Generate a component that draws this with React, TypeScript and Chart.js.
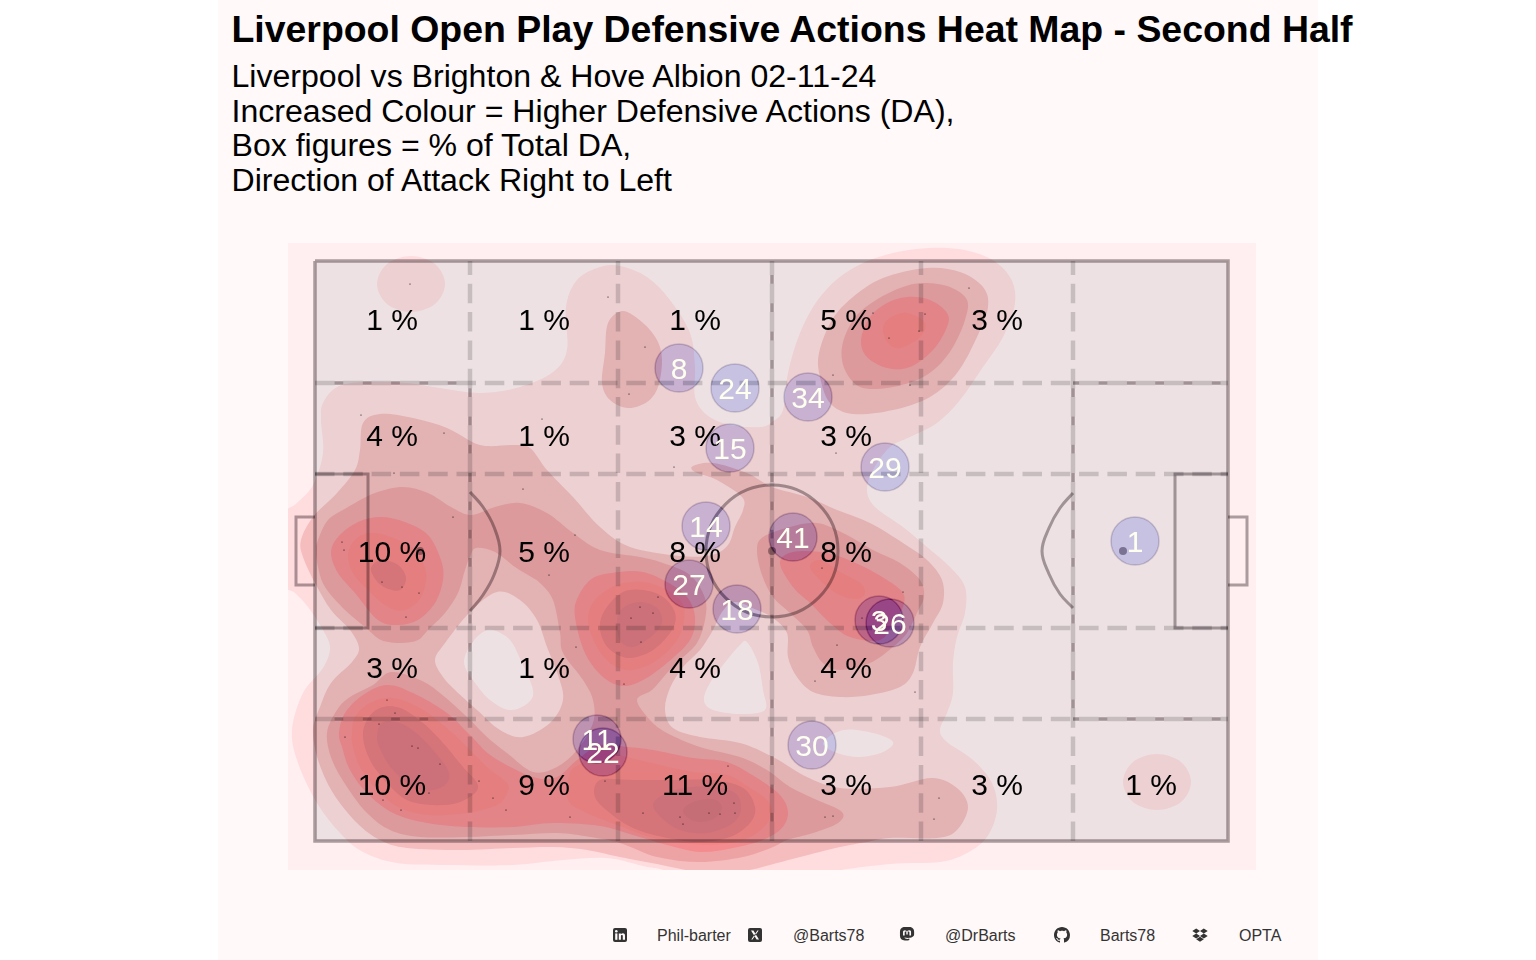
import { useEffect, useRef } from "react";
import { Chart, registerables } from "chart.js";

Chart.register(...registerables);

type Pt = [number, number];

// pitch units: 913 x 580, origin top-left of the pitch, y grows downwards
const level1Main: Pt[] = [[8,142],[22,126],[48,121],[92,122],[125,127],[165,132],[205,126],[238,111],[252,89],[251,46],[262,19],[285,6],[305,5],[332,16],[355,39],[375,72],[380,106],[380,136],[392,154],[415,164],[445,166],[457,161],[468,149],[473,112],[485,72],[505,36],[535,9],[578,-8],[632,-13],[672,-4],[695,16],[700,42],[688,76],[668,106],[645,139],[622,162],[595,176],[575,186],[558,209],[552,229],[560,246],[588,266],[612,286],[635,306],[650,326],[650,352],[642,376],[638,402],[638,432],[632,452],[625,469],[632,481],[658,499],[677,522],[682,549],[672,576],[652,592],[625,601],[575,603],[515,611],[465,624],[385,624],[348,609],[332,606],[292,597],[248,599],[198,604],[132,604],[82,602],[48,591],[25,572],[2,542],[-17,502],[-23,469],[-12,432],[8,407],[15,387],[8,369],[-7,346],[-20,332],[-35,319],[-35,259],[-18,242],[-2,224],[8,192],[6,159]];
const level1TopLeft: Pt[] = [[96,-5],[120,3],[130,23],[120,43],[96,51],[72,43],[62,23],[72,3]];
const level1BottomRight: Pt[] = [[842,493],[866,501],[876,521],[866,541],[842,549],[818,541],[808,521],[818,501]];
const level1Pocket: Pt[] = [[120,399],[130,382],[155,351],[182,331],[205,339],[222,359],[232,386],[243,414],[248,439],[235,462],[208,476],[185,469],[162,449],[140,429],[128,416]];
const holeCentre: Pt[] = [[432,381],[443,402],[448,429],[450,449],[425,453],[398,449],[389,439],[395,422],[412,399],[425,384]];
const holeLeft: Pt[] = [[178,369],[195,379],[207,402],[218,429],[213,442],[195,449],[175,439],[158,419],[149,401],[157,382],[168,371]];
const holeRight: Pt[] = [[508,482],[528,469],[558,472],[578,481],[568,491],[545,496],[522,492]];

const level2Main: Pt[] = [[45,189],[48,162],[65,153],[98,157],[132,167],[165,184],[198,184],[215,187],[232,209],[258,236],[285,266],[315,286],[365,295],[397,294],[413,284],[420,266],[428,249],[427,236],[402,219],[380,211],[378,205],[398,202],[432,212],[457,226],[492,236],[522,249],[555,262],[588,282],[612,299],[627,319],[628,342],[618,362],[605,386],[598,412],[585,426],[555,434],[525,436],[498,431],[482,416],[473,396],[472,372],[458,357],[442,349],[420,341],[407,351],[398,369],[385,389],[368,406],[355,427],[350,449],[358,467],[385,476],[425,482],[458,496],[492,516],[525,527],[575,526],[617,517],[642,527],[653,546],[642,569],[622,577],[575,577],[552,581],[525,586],[485,596],[462,602],[428,610],[385,611],[342,603],[305,596],[272,589],[238,586],[198,587],[145,589],[92,587],[65,579],[42,562],[18,532],[3,499],[-2,469],[5,446],[16,422],[37,401],[44,387],[35,369],[16,349],[0,322],[-12,296],[-14,279],[-2,256],[22,232],[40,209]];
const level2TopRight: Pt[] = [[612,7],[645,11],[668,26],[673,46],[662,76],[642,112],[615,136],[578,149],[538,153],[515,142],[505,116],[504,92],[517,59],[538,36],[568,17]];
const level2Upper: Pt[] = [[308,50],[328,62],[342,79],[347,99],[343,126],[332,141],[313,147],[295,139],[287,122],[290,92],[293,62]];

const level3Main: Pt[] = [[3,279],[13,259],[33,246],[60,232],[88,226],[113,232],[136,246],[156,254],[180,246],[205,242],[232,252],[258,272],[285,289],[325,296],[348,302],[375,314],[390,337],[390,359],[382,382],[365,399],[352,412],[337,429],[322,439],[335,459],[352,472],[385,486],[425,496],[452,509],[475,526],[502,539],[527,551],[523,562],[498,572],[472,579],[458,586],[428,596],[385,601],[342,596],[305,582],[275,576],[242,572],[198,574],[152,576],[105,576],[75,569],[52,552],[32,526],[17,499],[12,472],[22,449],[35,436],[58,424],[76,411],[105,419],[125,432],[152,456],[172,476],[192,492],[218,511],[242,506],[262,489],[278,462],[278,439],[268,419],[248,392],[245,372],[238,339],[225,322],[213,314],[200,306],[180,291],[161,287],[155,296],[150,309],[143,332],[130,352],[113,369],[103,379],[86,382],[66,379],[50,366],[30,349],[10,326],[3,306],[1,289]];
const level3Centre: Pt[] = [[442,289],[448,276],[475,266],[502,262],[528,272],[558,289],[585,302],[605,319],[609,336],[602,352],[592,372],[578,386],[555,402],[525,409],[508,402],[498,386],[492,369],[475,352],[458,336],[447,314]];
const level3TopRight: Pt[] = [[608,22],[635,26],[652,39],[650,59],[638,86],[622,106],[602,119],[572,127],[545,126],[530,109],[527,86],[538,59],[558,41],[585,27]];

const level4Left: Pt[] = [[16,292],[23,276],[43,261],[66,256],[90,261],[113,274],[126,299],[128,319],[120,342],[103,359],[83,364],[63,359],[40,332],[23,312]];
const level4Middle: Pt[] = [[260,356],[263,336],[278,317],[305,311],[328,311],[352,321],[372,336],[380,356],[375,379],[352,402],[328,419],[308,425],[288,416],[270,392]];
const level4Bottom: Pt[] = [[24,472],[30,452],[48,434],[72,424],[98,432],[132,452],[155,474],[178,496],[218,516],[242,516],[262,499],[285,484],[312,486],[338,489],[378,497],[412,501],[442,517],[465,534],[473,551],[467,567],[448,579],[418,587],[385,591],[352,584],[318,574],[285,565],[238,562],[198,566],[152,566],[112,562],[78,552],[52,532],[35,509],[27,486]];
const level4Centre: Pt[] = [[465,302],[478,291],[512,292],[545,304],[572,319],[588,332],[588,346],[578,362],[565,379],[535,376],[515,362],[495,342],[478,326]];
const level4TopRight: Pt[] = [[592,36],[615,39],[632,52],[632,66],[618,89],[595,106],[572,107],[552,96],[546,79],[555,56],[572,42]];

const level5Left: Pt[] = [[33,294],[40,279],[55,272],[76,276],[100,289],[111,312],[106,336],[90,349],[73,346],[53,329],[38,312]];
const level5Middle: Pt[] = [[273,359],[280,339],[302,324],[328,321],[352,329],[367,342],[369,359],[362,379],[342,399],[318,409],[298,404],[282,386]];
const level5BottomLeft: Pt[] = [[37,472],[40,456],[55,442],[78,437],[105,447],[128,464],[148,482],[172,506],[192,522],[192,532],[182,544],[152,552],[115,554],[85,547],[62,529],[45,506],[38,486]];
const level5BottomCentre: Pt[] = [[255,512],[267,502],[285,489],[312,496],[345,504],[378,511],[412,514],[435,527],[452,539],[457,552],[448,567],[428,579],[395,584],[362,581],[335,576],[305,565],[272,552],[253,539]];
const level5Centre: Pt[] = [[495,306],[505,299],[525,311],[545,322],[550,332],[542,338],[525,334],[508,322]];
const level5TopRight: Pt[] = [[568,67],[575,57],[592,52],[610,62],[605,76],[585,87],[573,82]];

const level6Left: Pt[] = [[56,307],[66,299],[83,304],[91,317],[85,329],[71,327],[61,319]];
const level6Middle: Pt[] = [[285,362],[292,346],[308,331],[328,329],[348,336],[360,352],[357,369],[338,389],[315,397],[298,391],[288,379]];
const level6BottomLeft: Pt[] = [[48,476],[52,459],[65,447],[85,447],[108,462],[128,482],[148,506],[162,522],[160,532],[142,542],[118,544],[92,539],[72,522],[55,499]];
const level6BottomCentre: Pt[] = [[280,536],[285,519],[318,519],[358,519],[398,519],[428,527],[440,546],[435,562],[415,576],[385,581],[352,577],[318,567],[295,552]];

const level7Middle: Pt[] = [[302,359],[308,347],[325,341],[342,347],[347,361],[338,374],[318,386],[305,379]];
const level7BottomLeft: Pt[] = [[62,477],[67,462],[82,461],[100,471],[118,489],[133,509],[132,522],[118,529],[98,526],[78,509],[67,492]];
const level7BottomCentre: Pt[] = [[338,544],[348,534],[368,527],[398,526],[420,532],[426,547],[418,562],[392,572],[365,569],[347,557]];
const level8BottomCentre: Pt[] = [[368,549],[378,541],[398,538],[407,546],[400,557],[385,561],[373,557]];

// defensive action locations
const actionPoints: Pt[] = [[95,23],[293,36],[330,86],[314,133],[46,154],[129,172],[227,158],[79,212],[359,206],[208,228],[138,256],[260,274],[27,281],[29,289],[67,321],[87,326],[104,332],[91,356],[234,314],[343,336],[325,346],[338,352],[316,357],[326,381],[261,386],[309,423],[72,439],[80,452],[64,463],[30,476],[97,485],[103,487],[125,503],[114,532],[68,539],[86,549],[164,520],[178,537],[191,549],[255,556],[290,520],[413,505],[419,542],[328,552],[365,556],[394,552],[405,553],[420,552],[368,563],[654,27],[558,52],[610,53],[604,70],[574,77],[518,114],[595,124],[521,192],[507,307],[588,331],[547,357],[522,384],[500,420],[600,431],[510,556],[518,555],[624,537],[619,558]];

// average positions of the players
const playerNumbers = ["8","24","34","15","29","14","41","1","27","18","3","26","11","22","30"];
const playerX = [364,420,493,415,570,391,478,820,374,422,564,575,282,288,497];
const playerY = [107,127,136,187,206,265,276,280,323,348,359,362,478,491,484];

const percentColumns = [77,229,380,531,682,836];
const percentRows = [59,175,291,407,524];
const percentValues: (number | null)[][] = [
  [1,1,1,5,3,null],
  [4,1,3,3,null,null],
  [10,5,8,8,null,null],
  [3,1,4,4,null,null],
  [10,9,11,3,3,1],
];

const gridX = [155,303,457,606,758];
const gridY = [122,213,367,458];
const spotX = [105,457,808];
const spotY = [290,290,290];

const pitchOutline: Pt[] = [[0,0],[913,0],[913,580],[0,580],[0,0]];
const sixLeft: Pt[] = [[0,213],[53,213],[53,367],[0,367]];
const sixRight: Pt[] = [[913,213],[860,213],[860,367],[913,367]];
const goalLeft: Pt[] = [[0,256],[-19,256],[-19,324],[0,324]];
const goalRight: Pt[] = [[913,256],[932,256],[932,324],[913,324]];
const arcLeft: Pt[] = [[155,231],[168,246],[179,266],[185,290],[179,314],[168,334],[155,350]];
const arcRight: Pt[] = [[758,232],[745,247],[734,267],[727,290],[734,313],[745,333],[758,347]];
const boxRuns: Pt[][] = [
  [[0,122],[155,122]],[[0,458],[155,458]],[[758,122],[913,122]],[[758,458],[913,458]],
  [[155,458],[155,122]],[[758,458],[758,122]],[[457,580],[457,0]],
];

const bgPink = "#ffeff0";
const levelColors = ["#ffdcde","#f5bdbd","#eda3a4","#f48c8f","#f78585","#e57b80","#dc787f","#d5747c"];
const lineColor = "#aca5a8";
const dashColor = "#d6d7d7";
const DASH = 19.5;
const GAP = 8.8;

const toData = (pts: Pt[]) => pts.map(([x, y]) => ({ x, y }));

function contour(pts: Pt[], color: string) {
  return { data: toData(pts), polygon: true, smooth: true, backgroundColor: color, pointRadius: 0, showLine: false };
}

function line(pts: Pt[], color: string, width: number, extra: object = {}) {
  return { data: toData(pts), showLine: true, borderColor: color, borderWidth: width, pointRadius: 0, blend: "multiply", fill: false, ...extra };
}

function buildDatasets() {
  const [l1, l2, l3, l4, l5, l6, l7, l8] = levelColors;
  const sets: any[] = [
    contour(level1Main, l1), contour(level1TopLeft, l1), contour(level1BottomRight, l1),
    contour(level2Main, l2), contour(level2TopRight, l2), contour(level2Upper, l2),
    contour(level1Pocket, l1), contour(holeLeft, bgPink), contour(holeCentre, bgPink), contour(holeRight, bgPink),
    contour(level3Main, l3), contour(level3Centre, l3), contour(level3TopRight, l3),
    contour(level4Left, l4), contour(level4Middle, l4), contour(level4Bottom, l4), contour(level4Centre, l4), contour(level4TopRight, l4),
    contour(level5Left, l5), contour(level5Middle, l5), contour(level5BottomLeft, l5), contour(level5BottomCentre, l5), contour(level5Centre, l5), contour(level5TopRight, l5),
    contour(level6Left, l6), contour(level6Middle, l6), contour(level6BottomLeft, l6), contour(level6BottomCentre, l6),
    contour(level7Middle, l7), contour(level7BottomLeft, l7), contour(level7BottomCentre, l7),
    contour(level8BottomCentre, l8),
    { data: toData(pitchOutline), polygon: true, blend: "multiply", backgroundColor: "rgb(237,241,242)", pointRadius: 0, showLine: false },
  ];

  // dashed zone grid, horizontal runs left to right, vertical runs bottom to top
  gridY.forEach((y) => sets.push(line([[0, y], [913, y]], dashColor, 4.5, { borderDash: [DASH, GAP] })));
  gridX.forEach((x) => sets.push(line([[x, 580], [x, 0]], dashColor, 4.5, { borderDash: [DASH, GAP] })));

  // pitch markings under the dashes only show in the gaps of the grid
  boxRuns.forEach((run) => {
    const start = run[0][0] === run[1][0] ? 580 - run[0][1] : run[0][0];
    const phase = ((start % (DASH + GAP)) - DASH + (DASH + GAP)) % (DASH + GAP);
    sets.push(line(run, lineColor, 3.5, { borderDash: [GAP, DASH], borderDashOffset: phase }));
  });

  sets.push(line(pitchOutline, lineColor, 3.5));
  sets.push(line(sixLeft, lineColor, 3));
  sets.push(line(sixRight, lineColor, 3));
  sets.push(line(goalLeft, lineColor, 3));
  sets.push(line(goalRight, lineColor, 3));
  sets.push(line(arcLeft, lineColor, 3, { tension: 0.4 }));
  sets.push(line(arcRight, lineColor, 3, { tension: 0.4 }));
  sets.push({
    data: [{ x: 457, y: 290 }], blend: "multiply", showLine: false, pointRadius: 66, pointBorderWidth: 3,
    pointBackgroundColor: "rgba(0,0,0,0)", pointBorderColor: lineColor,
  });
  sets.push({
    data: spotX.map((x, i) => ({ x, y: spotY[i] })), blend: "multiply", showLine: false, pointRadius: 4,
    pointBackgroundColor: lineColor, pointBorderWidth: 0,
  });
  // discs take a fixed amount off whatever lies below, so they stay lilac on the pitch and turn magenta on the heat
  sets.push({
    data: playerX.map((x, i) => ({ x, y: playerY[i] })), blend: "difference", showLine: false, pointRadius: 24,
    pointBackgroundColor: "rgb(37,31,1)", pointBorderColor: "rgb(35,36,30)", pointBorderWidth: 1.5,
  });
  sets.push({
    data: toData(actionPoints), showLine: false, pointRadius: 0.6, pointBackgroundColor: "#000", pointBorderWidth: 0,
  });

  const total = sets.length;
  sets.forEach((s, i) => { s.order = total - i; });
  return sets;
}

function smoothPath(ctx: CanvasRenderingContext2D, p: Pt[]) {
  const n = p.length;
  ctx.beginPath();
  ctx.moveTo(p[0][0], p[0][1]);
  for (let i = 0; i < n; i++) {
    const a = p[(i - 1 + n) % n], b = p[i], c = p[(i + 1) % n], d = p[(i + 2) % n];
    ctx.bezierCurveTo(b[0] + (c[0] - a[0]) / 6, b[1] + (c[1] - a[1]) / 6, c[0] - (d[0] - b[0]) / 6, c[1] - (d[1] - b[1]) / 6, c[0], c[1]);
  }
  ctx.closePath();
}

const pitchPainter = {
  id: "pitchPainter",
  beforeDraw(chart: any) {
    chart.ctx.save();
    chart.ctx.fillStyle = bgPink;
    chart.ctx.fillRect(0, 0, chart.width, chart.height);
    chart.ctx.restore();
  },
  beforeDatasetDraw(chart: any, args: any) {
    const ds = chart.data.datasets[args.index];
    const ctx = chart.ctx;
    ctx.save();
    if (ds.blend) ctx.globalCompositeOperation = ds.blend;
    if (ds.polygon) {
      const pts: Pt[] = ds.data.map((d: any) => [chart.scales.x.getPixelForValue(d.x), chart.scales.y.getPixelForValue(d.y)]);
      if (ds.smooth) {
        smoothPath(ctx, pts);
      } else {
        ctx.beginPath();
        pts.forEach((q, i) => (i ? ctx.lineTo(q[0], q[1]) : ctx.moveTo(q[0], q[1])));
        ctx.closePath();
      }
      ctx.fillStyle = ds.backgroundColor;
      ctx.fill();
    }
  },
  afterDatasetDraw(chart: any) {
    chart.ctx.restore();
  },
  afterDatasetsDraw(chart: any) {
    const { ctx, scales } = chart;
    ctx.save();
    ctx.textAlign = "center";
    ctx.textBaseline = "middle";
    ctx.font = '30px "Liberation Sans"';
    ctx.fillStyle = "#000";
    percentValues.forEach((row, r) => row.forEach((v, c) => {
      if (v === null) return;
      ctx.fillText(`${v} %`, scales.x.getPixelForValue(percentColumns[c]), scales.y.getPixelForValue(percentRows[r]) + 2);
    }));
    ctx.fillStyle = "#fffff0";
    playerNumbers.forEach((num, i) => {
      ctx.fillText(num, scales.x.getPixelForValue(playerX[i]), scales.y.getPixelForValue(playerY[i]) + 2.5);
    });
    ctx.restore();
  },
};

const titleStyle: React.CSSProperties = {
  position: "absolute", left: 231.5, top: 7, fontFamily: '"Liberation Sans"', fontWeight: "bold",
  fontSize: 37.42, lineHeight: "44px", whiteSpace: "nowrap", color: "#000",
};
const subtitleStyle: React.CSSProperties = {
  position: "absolute", left: 231.5, top: 59, fontFamily: '"Liberation Sans"',
  fontSize: 32.1, lineHeight: "34.6px", whiteSpace: "nowrap", color: "#000",
};

const footerItems = [
  { label: "Phil-barter", x: 657 },
  { label: "@Barts78", x: 793 },
  { label: "@DrBarts", x: 945 },
  { label: "Barts78", x: 1100 },
  { label: "OPTA", x: 1239 },
];

function FooterIcon({ x, children, view = "0 0 16 16" }: { x: number; children: any; view?: string }) {
  return (
    <svg viewBox={view} width={16} height={16} style={{ position: "absolute", left: x, top: 927 }} fill="#333">
      {children}
    </svg>
  );
}

export default function App() {
  const canvasRef = useRef<HTMLCanvasElement>(null);

  useEffect(() => {
    if (!canvasRef.current) return;
    const chart = new Chart(canvasRef.current, {
      type: "scatter",
      data: { datasets: buildDatasets() },
      options: {
        responsive: false,
        devicePixelRatio: 1,
        animation: false,
        events: [],
        layout: { padding: 0, autoPadding: false },
        plugins: { legend: { display: false }, tooltip: { enabled: false } },
        scales: {
          x: { type: "linear", display: false, min: -27, max: 941 },
          y: { type: "linear", display: false, min: -18, max: 609, reverse: true },
        },
      },
      plugins: [pitchPainter],
    } as any);
    return () => chart.destroy();
  }, []);

  return (
    <div style={{ position: "absolute", left: 0, top: 0, width: 1536, height: 960, overflow: "hidden", background: "#fff" }}>
      <div style={{ position: "absolute", left: 218, top: 0, width: 1100, height: 960, background: "#fff9f9" }} />
      <canvas ref={canvasRef} width={968} height={627} style={{ position: "absolute", left: 288, top: 243, width: 968, height: 627 }} />
      <div style={titleStyle}>Liverpool Open Play Defensive Actions Heat Map - Second Half</div>
      <div style={subtitleStyle}>
        Liverpool vs Brighton &amp; Hove Albion 02-11-24<br />
        Increased Colour = Higher Defensive Actions (DA),<br />
        Box figures = % of Total DA,<br />
        Direction of Attack Right to Left
      </div>
      {footerItems.map((f) => (
        <div key={f.label} style={{ position: "absolute", left: f.x, top: 927, fontFamily: '"Liberation Sans"', fontSize: 16, lineHeight: "18px", color: "#333", whiteSpace: "nowrap" }}>
          {f.label}
        </div>
      ))}
      <FooterIcon x={612}>
        <rect x="1" y="1" width="14" height="14" rx="2" />
        <rect x="3.2" y="6.4" width="2.2" height="6.4" fill="#fff9f9" />
        <circle cx="4.3" cy="4.3" r="1.3" fill="#fff9f9" />
        <path d="M6.8 6.4h2.1v.9c.4-.7 1.1-1.1 2-1.1 1.6 0 2.1 1 2.1 2.7v3.9h-2.2V9.3c0-.8-.2-1.3-.9-1.3s-1 .5-1 1.3v3.5H6.8z" fill="#fff9f9" />
      </FooterIcon>
      <FooterIcon x={747}>
        <rect x="1" y="1" width="14" height="14" rx="2" />
        <path d="M4 3.5h2.4l5.6 9H9.6zM11.6 3.5h-1.2L4.3 12.5h1.2z" fill="#fff9f9" />
      </FooterIcon>
      <FooterIcon x={899}>
        <g transform="translate(-1.4 -1.6) scale(1.18)">
          <path d="M8 1C4 1 2 2.4 2 5.4v3.4c0 2.6 1.7 3.7 4 4 1.5.2 3 0 4-.4l-.1-1.2c-1.3.4-3.6.5-4.1-.9 2.7.6 8.2.7 8.2-2.7V5.4C14 2.4 12 1 8 1z" />
          <path d="M4.6 8.6V5.8c0-1 .6-1.6 1.5-1.6S8 5 8 6c0-1 .6-1.8 1.9-1.8s1.5.6 1.5 1.6v2.8H10V6c0-.5-.3-.8-.7-.8-.5 0-.7.4-.7 1v1.6H7.4V6.2c0-.6-.2-1-.7-1-.4 0-.7.3-.7.8v2.6z" fill="#fff9f9" />
        </g>
      </FooterIcon>
      <FooterIcon x={1054}>
        <path d="M8 0C3.58 0 0 3.58 0 8c0 3.54 2.29 6.53 5.47 7.59.4.07.55-.17.55-.38 0-.19-.01-.82-.01-1.49-2.01.37-2.53-.49-2.69-.94-.09-.23-.48-.94-.82-1.13-.28-.15-.68-.52-.01-.53.63-.01 1.08.58 1.23.82.72 1.21 1.87.87 2.33.66.07-.52.28-.87.51-1.07-1.78-.2-3.64-.89-3.64-3.95 0-.87.31-1.59.82-2.15-.08-.2-.36-1.02.08-2.12 0 0 .67-.21 2.2.82.64-.18 1.32-.27 2-.27.68 0 1.36.09 2 .27 1.53-1.04 2.2-.82 2.2-.82.44 1.1.16 1.92.08 2.12.51.56.82 1.27.82 2.15 0 3.07-1.87 3.75-3.65 3.95.29.25.54.73.54 1.48 0 1.07-.01 1.93-.01 2.2 0 .21.15.46.55.38A8.013 8.013 0 0016 8c0-4.42-3.58-8-8-8z" />
      </FooterIcon>
      <FooterIcon x={1192}>
        <path d="M4.2 1.5 0.3 4l3.9 2.5L8 4zM11.8 1.5 8 4l3.8 2.5L15.7 4zM0.3 9l3.9 2.5L8 9 4.2 6.5zM11.8 6.5 8 9l3.8 2.5L15.7 9zM4.2 12.3 8 14.8l3.8-2.5L8 9.8z" />
      </FooterIcon>
    </div>
  );
}
